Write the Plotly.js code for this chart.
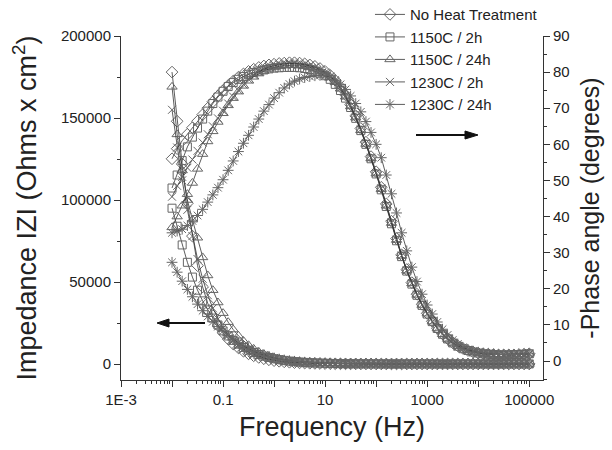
<!DOCTYPE html>
<html>
<head>
<meta charset="utf-8">
<script src="https://cdn.plot.ly/plotly-3.0.1.min.js"></script>
<style>html,body{margin:0;padding:0;background:#fff;}#chart{width:612px;height:450px;}</style>
</head>
<body>
<div id="chart"></div>
<script>
// Frequency (Hz), 10 points per decade
const freq = [0.01,0.0126,0.0158,0.02,0.0251,0.0316,0.0398,0.0501,0.0631,0.0794,
0.1,0.126,0.158,0.2,0.251,0.316,0.398,0.501,0.631,0.794,
1,1.26,1.58,2,2.51,3.16,3.98,5.01,6.31,7.94,
10,12.6,15.8,20,25.1,31.6,39.8,50.1,63.1,79.4,
100,126,158,200,251,316,398,501,631,794,
1000,1260,1580,2000,2510,3160,3980,5010,6310,7940,
10000,12600,15800,20000,25100,31600,39800,50100,63100,79400,
100000];

const seriesNames = ["No Heat Treatment","1150C / 2h","1150C / 24h","1230C / 2h","1230C / 24h"];

// Impedance |Z| (Ohms x cm^2)
const zNoHeat = [178000,148000,122000,98000,78000,60000,47000,37000,29500,23500,
19000,15200,12200,9800,7800,6200,5000,4000,3200,2550,
2050,1650,1320,1060,850,680,550,440,355,290,
235,190,155,128,106,88,74,63,55,49,
44,41,38,36,35,34,33,33,32,32,
32,32,31,31,31,31,31,31,31,31,
31,31,31,31,31,31,31,31,31,31,
31];
const z1150_2h = [95000,84000,72600,62000,53000,45000,38500,33000,28000,23800,
20200,17100,14400,12100,10100,8400,7000,5800,4800,3950,
3250,2680,2200,1800,1470,1200,980,800,650,530,
430,350,285,232,190,156,128,106,89,75,
64,56,50,45,42,40,38,37,36,36,
35,35,35,35,35,35,35,35,35,35,
35,35,35,35,35,35,35,35,35,35,
35];
const z1150_24h = [169000,140000,118000,100000,88000,77000,65000,54000,45000,37500,
31000,25500,21000,17200,14000,11400,9200,7400,6000,4800,
3900,3100,2500,2000,1600,1300,1050,850,690,560,
460,375,305,250,205,170,140,118,100,86,
75,66,59,54,50,47,45,43,42,41,
40,39,39,38,38,38,38,38,38,38,
38,38,38,38,38,38,38,38,38,38,
38];
const z1230_2h = [155000,132000,112000,94000,78000,64000,52000,42000,34000,27500,
22000,17600,14100,11300,9000,7200,5750,4600,3650,2900,
2300,1840,1470,1170,940,750,600,480,385,310,
250,202,164,134,110,91,76,65,56,50,
45,41,38,36,35,34,33,33,32,32,
32,32,32,32,32,32,32,32,32,32,
32,32,32,32,32,32,32,32,32,32,
32];
const z1230_24h = [62000,56000,50500,45500,41000,36500,32500,29000,25800,22800,
20000,17400,15000,12900,11000,9300,7800,6500,5400,4450,
3650,3000,2450,2000,1630,1330,1080,880,720,590,
485,400,330,272,225,187,156,131,111,95,
82,72,64,58,54,51,49,47,46,45,
44,44,43,43,43,43,43,43,43,43,
43,43,43,43,43,43,43,43,43,43,
43];

// -Phase angle (degrees)
const pNoHeat = [56.0,58.8,61.0,62.8,64.6,66.4,68.2,70.0,71.8,73.4,
74.9,76.3,77.5,78.6,79.5,80.2,80.8,81.3,81.7,82.0,
82.2,82.4,82.5,82.6,82.6,82.5,82.3,82.0,81.6,81.0,
80.2,79.1,77.7,75.9,73.7,71.0,67.9,64.4,60.6,56.6,
52.4,48.1,43.5,38.7,33.9,29.4,25.3,21.7,18.5,15.7,
13.2,11.0,9.1,7.5,6.2,5.1,4.2,3.5,2.9,2.5,
2.2,2.0,1.9,1.8,1.7,1.7,1.7,1.7,1.8,1.9,
2.0];
const p1150_2h = [47.9,51.5,55.5,59.3,62.0,64.5,67.0,69.2,71.3,73.1,
74.7,76.0,77.1,78.0,78.8,79.4,79.9,80.3,80.6,80.9,
81.1,81.2,81.3,81.3,81.3,81.2,81.0,80.7,80.3,79.7,
79.0,78.0,76.6,74.9,72.8,70.2,67.2,63.8,60.0,56.0,
51.8,47.4,42.8,38.0,33.3,28.9,24.9,21.3,18.2,15.4,
13.0,10.9,9.0,7.4,6.1,5.0,4.1,3.4,2.9,2.5,
2.2,2.0,1.9,1.8,1.7,1.7,1.7,1.8,1.8,1.9,
2.0];
const p1150_24h = [37.0,40.0,43.0,46.2,49.3,53.2,57.3,60.8,63.6,66.2,
68.6,70.8,72.8,74.6,76.2,77.6,78.7,79.6,80.3,80.9,
81.3,81.6,81.8,81.9,81.9,81.8,81.6,81.3,80.9,80.3,
79.6,78.6,77.2,75.4,73.2,70.5,67.4,63.9,60.1,56.1,
51.9,47.6,43.0,38.2,33.5,29.1,25.0,21.5,18.3,15.5,
13.1,10.9,9.0,7.4,6.1,5.0,4.1,3.4,2.9,2.5,
2.2,2.0,1.9,1.8,1.7,1.7,1.7,1.7,1.8,1.9,
2.0];
const p1230_2h = [45.5,48.5,51.0,53.5,55.8,58.2,60.5,62.8,65.0,67.2,
69.3,71.3,73.2,75.0,76.6,78.0,79.2,80.1,80.8,81.4,
81.8,82.1,82.3,82.4,82.4,82.3,82.1,81.8,81.3,80.7,
79.9,78.8,77.4,75.6,73.4,70.7,67.6,64.1,60.3,56.3,
52.1,47.8,43.2,38.4,33.6,29.2,25.1,21.6,18.4,15.6,
13.1,10.9,9.1,7.5,6.1,5.0,4.1,3.4,2.9,2.5,
2.2,2.0,1.9,1.8,1.7,1.7,1.7,1.7,1.8,1.9,
2.0];
const p1230_24h = [35.5,36.0,36.5,37.5,38.8,40.3,42.0,44.0,46.0,48.0,
50.2,52.8,55.4,58.0,60.3,62.5,64.8,67.0,69.2,71.0,
72.8,74.3,75.6,76.7,77.5,78.1,78.5,78.8,79.0,79.1,
79.0,78.6,77.8,76.6,75.2,73.4,71.3,69.0,66.3,63.3,
60.0,56.3,51.5,46.3,41.0,35.5,30.5,26.0,22.0,18.5,
15.5,13.0,10.8,8.8,7.2,5.8,4.7,3.8,3.2,2.7,
2.4,2.2,2.0,1.9,1.8,1.8,1.8,1.8,1.9,1.9,
2.0];

const xTickVals = [0.001,0.01,0.1,1,10,100,1000,10000,100000];
const xTickText = ["1E-3","","0.1","","10","","1000","","100000"];

const impedance = [zNoHeat, z1150_2h, z1150_24h, z1230_2h, z1230_24h];
const phase = [pNoHeat, p1150_2h, p1150_24h, p1230_2h, p1230_24h];
const symbols = ["diamond-open","square-open","triangle-up-open","x-thin-open","asterisk-open"];
const sizes = [9,8,9,8,9];

const traces = [];
for (let i = 0; i < seriesNames.length; i++) {
  const common = {
    x: freq, mode: "lines+markers", legendgroup: "g" + i, name: seriesNames[i],
    line: {color: "#333", width: 0.8},
    marker: {symbol: symbols[i], size: sizes[i], color: "#666", line: {color: "#666", width: 1}}
  };
  traces.push(Object.assign({}, common, {y: impedance[i], yaxis: "y", showlegend: true}));
  traces.push(Object.assign({}, common, {y: phase[i], yaxis: "y2", showlegend: false}));
}

// plot-area geometry (pixels) used only to place the decorative arrows
const PL = 121, PR = 543, PT = 36, PB = 380;
const px2x = p => (p - PL) / (PR - PL);
const px2y = p => (PB - p) / (PB - PT);
function arrowShapes(tailX, headX, yPix, headLen, halfW) {
  const dir = headX < tailX ? 1 : -1;
  const baseX = headX + dir * headLen;
  return [
    {type: "line", xref: "paper", yref: "paper", x0: px2x(tailX), x1: px2x(baseX), y0: px2y(yPix), y1: px2y(yPix),
     line: {color: "#111", width: 2.2}},
    {type: "path", xref: "paper", yref: "paper", fillcolor: "#111", line: {color: "#111", width: 1},
     path: `M ${px2x(headX)} ${px2y(yPix)} L ${px2x(baseX)} ${px2y(yPix - halfW)} L ${px2x(baseX)} ${px2y(yPix + halfW)} Z`}
  ];
}

const font = "Liberation Sans, Arial, sans-serif";
const axisCommon = {
  showgrid: false, zeroline: false, showline: true, linecolor: "#333", linewidth: 1,
  ticks: "outside", ticklen: 6, tickwidth: 1, tickcolor: "#333",
  tickfont: {family: font, size: 15, color: "#222"}
};

const layout = {
  width: 612, height: 450,
  margin: {l: PL, r: 612 - PR, t: PT, b: 450 - PB, autoexpand: false},
  paper_bgcolor: "#fff", plot_bgcolor: "#fff",
  font: {family: font, color: "#222"},
  xaxis: Object.assign({}, axisCommon, {
    type: "log", range: [-3, 5.27], tickmode: "array", tickvals: xTickVals, ticktext: xTickText,
    minor: {ticks: "outside", ticklen: 3, tickcolor: "#333", dtick: "D1", showgrid: false},
    title: {text: "Frequency (Hz)", font: {family: font, size: 27, color: "#222"}, standoff: 10}
  }),
  yaxis: Object.assign({}, axisCommon, {
    range: [-9756, 200000], tickmode: "linear", tick0: 0, dtick: 50000, tickformat: "d",
    minor: {ticks: "outside", ticklen: 3, tickcolor: "#333", dtick: 25000, showgrid: false},
    title: {text: "Impedance IZI (Ohms x cm<sup>2</sup>)", font: {family: font, size: 27, color: "#222"}, standoff: 16}
  }),
  yaxis2: Object.assign({}, axisCommon, {
    overlaying: "y", side: "right", range: [-5.26, 90], tickmode: "linear", tick0: 0, dtick: 10,
    minor: {ticks: "outside", ticklen: 3, tickcolor: "#333", dtick: 5, showgrid: false},
    title: {text: "-Phase angle (degrees)", font: {family: font, size: 25, color: "#222"}, standoff: 12}
  }),
  legend: {
    x: 0.59, y: 1.11, xanchor: "left", yanchor: "top",
    bgcolor: "rgba(0,0,0,0)", font: {family: font, size: 15, color: "#222"},
    tracegroupgap: 0, itemwidth: 30
  },
  shapes: [].concat(arrowShapes(205, 157, 323, 12, 4), arrowShapes(416, 478, 135, 13, 4))
};

Plotly.newPlot("chart", traces, layout, {displayModeBar: false, staticPlot: true});
</script>
</body>
</html>
